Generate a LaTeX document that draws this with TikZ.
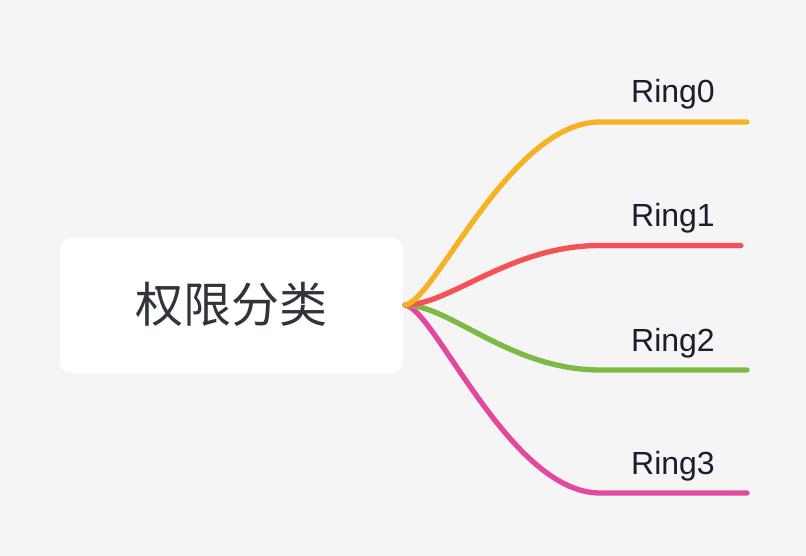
\documentclass[tikz,border=0pt]{standalone}
\usepackage{fontspec}
\setmainfont{Liberation Sans}
\newfontfamily\cjkfont{Noto Sans CJK SC}
\definecolor{bgc}{HTML}{F5F5F5}
\definecolor{roottext}{HTML}{30343B}
\definecolor{labtext}{HTML}{1C1C30}
\definecolor{corange}{HTML}{F5B324}
\definecolor{cred}{HTML}{F55257}
\definecolor{cgreen}{HTML}{7CBA45}
\definecolor{cmagenta}{HTML}{E3489E}
\begin{document}
\begin{tikzpicture}[x=1pt,y=-1pt,
  branch/.style={line width=5.3pt,line cap=round},
  lab/.style={anchor=base west,inner sep=0pt,text=labtext,font=\fontsize{32}{32}\selectfont}]
\fill[bgc] (0,0) rectangle (806,556);
\useasboundingbox (0,0) rectangle (806,556);
\node[fill=white,rounded corners=12pt,minimum width=343pt,minimum height=136pt,inner sep=0pt] (root) at (231.5,305.5) {};
\node[text=roottext,font=\cjkfont\fontsize{48}{48}\selectfont] (rt) at (231.5,304) {权限分类};
\coordinate (s) at (405,305);
\coordinate (e0) at (600,122);
\coordinate (e1) at (600,245.5);
\coordinate (e2) at (600,370);
\coordinate (e3) at (600,493);
\coordinate (f0) at (747,122);
\coordinate (f1) at (741,245.5);
\coordinate (f2) at (747,370);
\coordinate (f3) at (747,493);
\draw[branch,cmagenta] (s) .. controls (435,309) and (510,493) .. (e3) -- (f3);
\draw[branch,cgreen] (s) .. controls (450,305) and (510,370) .. (e2) -- (f2);
\draw[branch,cred] (s) .. controls (450,305) and (510,245.5) .. (e1) -- (f1);
\draw[branch,corange] (s) .. controls (435,301) and (510,122) .. (e0) -- (f0);
\node[lab] (r0) at (631,103) {Ring0};
\node[lab] (r1) at (631,227) {Ring1};
\node[lab] (r2) at (631,351) {Ring2};
\node[lab] (r3) at (631,474) {Ring3};
\end{tikzpicture}
\end{document}
